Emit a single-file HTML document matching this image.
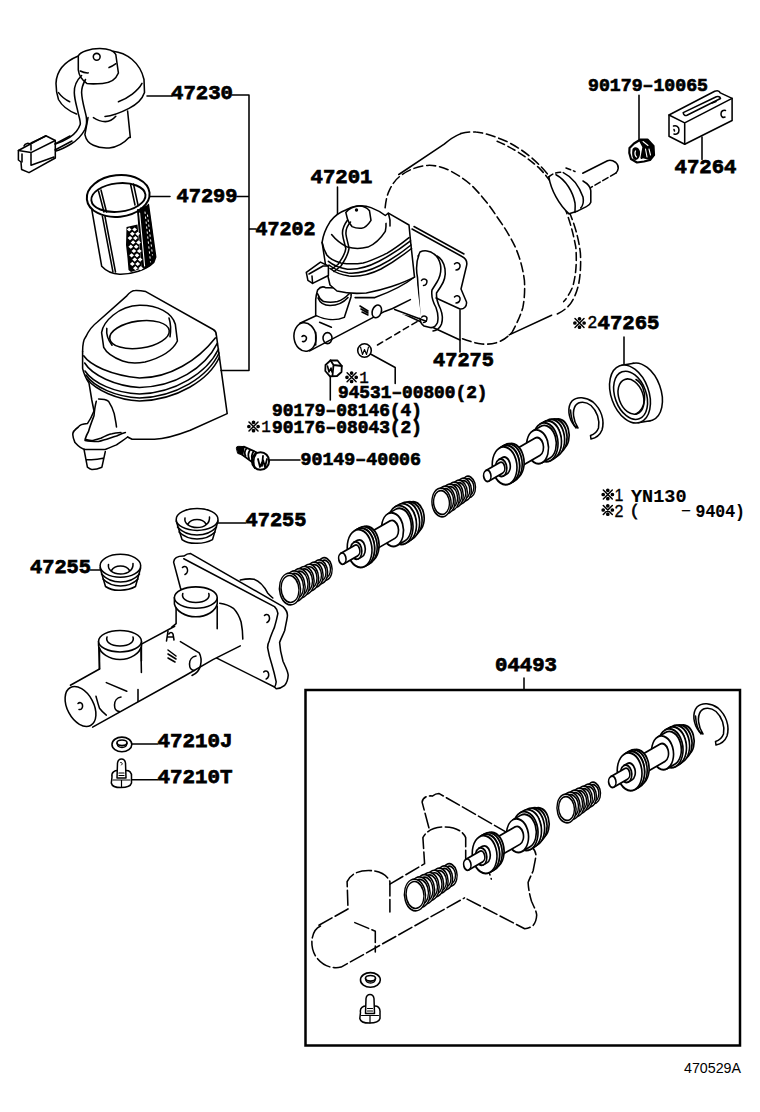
<!DOCTYPE html>
<html><head><meta charset="utf-8">
<style>
html,body{margin:0;padding:0;background:#fff;}
body{width:760px;height:1112px;overflow:hidden;}
svg{display:block;}
.L{font-family:"Liberation Mono",monospace;font-weight:bold;font-size:20.5px;fill:#000;stroke:#000;stroke-width:0.75px;}
.S{font-family:"Liberation Mono",monospace;font-weight:bold;font-size:18.6px;fill:#000;stroke:#000;stroke-width:0.7px;}
.R{font-family:"Liberation Mono",monospace;font-size:16px;fill:#000;stroke:#000;stroke-width:0.4px;}
.R2{font-family:"Liberation Sans",sans-serif;font-size:16px;fill:#000;stroke:#000;stroke-width:0.3px;}
.N{font-family:"Liberation Sans",sans-serif;font-size:14.2px;fill:#000;}
</style></head><body>
<svg width="760" height="1112" viewBox="0 0 760 1112">
<g fill="none" stroke="#000" stroke-width="1.55" stroke-linecap="round" stroke-linejoin="round" id="lines">

<!-- A: cap 47230 -->
<g id="cap">
<path d="M78.3 56 C66 61 56.5 70 56 83.4 C56 91 57 95 58.5 99.5 C62 106 69 111 76.5 114"/>
<path d="M113 51.2 C126 52.5 140 62 144 79.5 L144.5 92.6 C142 100 136 105 129 108.4 C120 113 112 116 105 116.5"/>
<path d="M58.5 92.6 C61 96 65 99.5 69.7 101.8 M118.4 101.8 C128 98 138 91 142 83.4"/>
<path d="M78.3 56 C80 52 90 48.5 100 48.6 C108 48.7 114 51 115.8 54.5 L118.4 73 C116 79 110 83 102.6 83.4 C96 84 90 84 86.8 83.4 C82 80 79 76 78.3 70 Z"/>
<path d="M109 67.6 C112 66.5 114 65 115.8 63.7 M80.3 71 C83 72.5 86 73 88.2 72.9"/>
<circle cx="96.7" cy="56.8" r="3.4"/>
<path d="M88 117.6 L84.9 134.7 C86 140 89 143.5 93.4 145.3 C98 147.5 104 148.3 109.2 147.9 C117 147 124 143 129 137.4 L130.3 137.4 L127.6 111"/>
<path d="M93.4 117.6 C97 120 101 121.6 105.3 121.6 C109 121.6 113 119.5 115.8 116.3"/>
<path d="M81.6 75.5 C77 80 74 86 74.3 92.6 C74.5 100 77 107 78.3 113.7 C79.5 118 80.5 121 80.3 124.2 C78 131 74 134.5 69.7 137.4 C64 141 59 143 55.3 144"/>
<path d="M85.5 79.5 C83 84 81.5 88 81.6 92.6 C82 102 85 110 86.2 116.3 C87 121 86.5 126 84.9 129.5 C81 137 76 141 71 144 C66 147 60 150 56 151"/>
<path d="M18.4 150.5 L45.8 135.8 L55.3 140.5 L55.3 158 L29 172.6 L21.6 169.5 L21 162 L18.4 160 Z"/>
<path d="M18.4 150.5 L31 152.6 L55.3 140.5 M31 152.6 L31 165.3 L54 157 M22 154 L22 162"/>
<path d="M24 146 C25 143 29 142.5 31 145 L31 150 M31 143 L46 136"/>
<path d="M55 144 L70 136 M55 150 L72 141"/>
</g>
<!-- B: strainer 47299 -->
<g id="strainer">
<ellipse cx="118.2" cy="196" rx="31.5" ry="20.8" transform="rotate(-6 118.2 196)" stroke-width="2"/>
<ellipse cx="118.4" cy="197.5" rx="27.2" ry="14.2" transform="rotate(-6 118.4 197.5)" stroke-width="1.9"/>
<path d="M91.8 209.7 L101.7 266.3 C106 271 112 274 119.5 274.2 C132 274.5 146 270 153.7 262.4 L155.7 257 L148.4 204.5"/>
<path d="M102.4 216.3 L112.9 271.6 M105 216.5 L115.5 272"/>
<path d="M137.9 209.7 L145.8 267.6 M141 208 L149 266"/>
<path d="M98.5 191 L104 212 M101 190 L106.5 212 M130.5 184 L135 205 M133.5 184 L138 205"/>
<path fill="#000" stroke="none" d="M137 210 L148.4 204.5 L151 221 L155.7 257 L153.7 262.4 L147 267.5 L141.5 268.5 Z"/>
<path stroke="#fff" stroke-width="1.1" d="M139.6 213 L144.6 266"/>
<path stroke="#fff" stroke-width="1" stroke-dasharray="1.5 3.5" d="M145 212 L150.5 262 M147.5 215 L152.5 255"/>
<path fill="#000" stroke="none" d="M126.5 227 L137.5 224.5 L141.5 268.5 L131 272 L128.5 270 L127.5 258 L126 245 Z"/>
<path stroke="none" fill="#fff" d="M126.8 229.5 L129.2 227.4 L131.6 229.5 L129.2 231.6 Z M132.2 229.5 L134.6 227.4 L137.0 229.5 L134.6 231.6 Z M129.9 233.8 L132.3 231.7 L134.7 233.8 L132.3 235.9 Z M135.3 233.8 L137.7 231.7 L140.1 233.8 L137.7 235.9 Z M127.6 238.1 L130.0 236.0 L132.4 238.1 L130.0 240.2 Z M133.0 238.1 L135.4 236.0 L137.8 238.1 L135.4 240.2 Z M130.7 242.4 L133.1 240.3 L135.5 242.4 L133.1 244.5 Z M136.1 242.4 L138.5 240.3 L140.9 242.4 L138.5 244.5 Z M128.4 246.7 L130.8 244.6 L133.2 246.7 L130.8 248.8 Z M133.8 246.7 L136.2 244.6 L138.6 246.7 L136.2 248.8 Z M131.5 251.0 L133.9 248.9 L136.3 251.0 L133.9 253.1 Z M136.9 251.0 L139.3 248.9 L141.7 251.0 L139.3 253.1 Z M129.2 255.3 L131.6 253.2 L134.0 255.3 L131.6 257.4 Z M134.6 255.3 L137.0 253.2 L139.4 255.3 L137.0 257.4 Z M132.3 259.6 L134.7 257.5 L137.1 259.6 L134.7 261.7 Z M137.7 259.6 L140.1 257.5 L142.5 259.6 L140.1 261.7 Z M129.9 263.9 L132.3 261.8 L134.7 263.9 L132.3 266.0 Z M135.3 263.9 L137.7 261.8 L140.1 263.9 L137.7 266.0 Z M133.0 268.2 L135.4 266.1 L137.8 268.2 L135.4 270.3 Z M138.4 268.2 L140.8 266.1 L143.2 268.2 L140.8 270.3 Z"/>
</g>
<!-- C: reservoir 47202 -->
<g id="reservoir">
<path d="M82.6 351.6 C82.6 344 84 339 85.8 336.8 C89 330 92 326 97.4 322 L126.8 295.8 C129 293 132 290.5 135.3 290.5 C139 290.3 142 290.8 145.8 291.6 L213.2 329.5 C215 330.5 216.3 332.5 216.3 334.7"/>
<path d="M83.7 355.8 C90 365 110 375 139.5 378 C170 378 198 360 215.3 337.9"/>
<path d="M84.7 363 C92 375 115 386 139.5 387.4 C175 387 205 368 217.4 343.2"/>
<path d="M85 371 C93 383 115 393 139.5 394 C175 393 207 373 218.5 349"/>
<path d="M86 375 C94 387 116 397 139.5 398 C176 397 208 377 219 353"/>
<path d="M87 379 C96 390 117 400 139.5 401 C177 400 209 380 219.5 357"/>
<path d="M101.6 332.6 C103 322 118 306 139.5 305.3 C158 305 172 313 175.3 324.2 L177.4 341 C172 352 160 358 145 362 C135 364 128 363 122.6 361 C112 357 106 352 103.7 347.4 Z"/>
<ellipse cx="139.5" cy="334.6" rx="30" ry="13.6" transform="rotate(-8 139.5 334.6)"/>
<path d="M106.8 328.4 C106 335 108 340 112 345.3 M169 318 C171 324 171 330 170 336.8"/>
<path d="M216.3 334.7 L227.2 413.6 L190.3 430.3 C178 435 165 439 154.5 439.3 L132.1 439.3 L127.6 437"/>
<path d="M82.6 351.6 L82.6 368.4 C84 375 87 380 89 383.2 L91.8 400 L94 411 C92 416 90 420 87.4 423.6 C83 424 79.5 425 78.4 427 C74 430 72.5 432 72.8 434.8 C73 438 74 440 75 442.6 C78 446 81 449 85.1 449.4 L105.3 449.4 C109 448 113 446.5 116.5 444.9 C120 442 124 440 127.6 437"/>
<path d="M85 440.4 C90 441.5 94 441.5 98.6 441.5 C105 440 110 438 116.5 436 C120 434.5 122 433.5 125.4 432.6"/>
<path d="M98.6 399 C102 399 106 399.5 108.6 401.3 C111 405 113 409 114.2 413.6 C115 418 116 422 116.5 427"/>
<path d="M96.3 401.3 C95 406 94.5 410 94 415.8 C92 421 90 426 88.5 431.5 C87 434 86 436.5 85.1 439.3 C88 440.5 90 440.6 93 440.4 C96 439.8 98 439 100.8 438.2 C105 436 108 434.5 112 433.7 C115 433 118 432.8 121 432.6"/>
<path d="M84 449.4 L87.4 467.2 C89 468.5 90 469.3 91.8 469.5 C95 469.6 99 468.5 101.9 467.2 L105.3 451.6 M86.3 459.4 C92 460 98 459.5 103 458.3"/>
</g>


<!-- D: booster (phantom) -->
<g id="booster">
<path stroke-dasharray="9 4" d="M385.1 207.8 C386 200 387 195 389.7 189.6 C393 183 396 179 400.3 176 C408 170 418 166 427.5 165.4 C435 165 442 167 448.7 170 C458 175 466 180 472.9 186.6 C482 196 490 206 497.1 216.9 C505 228 511 238 515.3 247.1 C520 258 523 269 524.4 280.4 C525 290 524.5 299 522.8 307.7 C520 317 516 325 512.3 331.9 C507 338 502 341 497.1 342.5 C492 344 487 344.5 482 344 C475 343 468 341 460.8 338"/>
<path stroke-dasharray="9 4" d="M460.8 133.6 C466 132 471 131.5 475.9 132.1 C486 133 496 137 506.2 141.2 C516 146 525 152 533.4 159.3 C541 166 548 174 554.6 183.6 C561 194 567 205 571.3 216.9 C576 229 579 241 580.4 253.2 C581 264 580.5 274 578.8 283.4 C577 292 574 299 569.8 304.6 C565 310 560 313 554.6 315.2"/>
<path stroke-dasharray="8 4" d="M497.1 141.2 C513 148 527 157 539.5 168.4 C550 179 557 191 563.7 204.7 C569 218 573 232 575.8 247.1 C577 262 576 275 572.8 286.5 C570 293 567 298 563.7 301.6"/>
<path d="M398.8 174.5 L444.2 144.2 C450 139 455 136 460.8 133.6 M509.2 334.9 L551.6 315.2"/>
<path d="M392.5 308.8 L460 340"/>
<!-- pushrod & boot -->
<path fill="#fff" stroke="none" d="M548.8 176.9 C553 173 558 171 563.3 172.6 L585 184.9 C588 186.5 590.5 188.5 590.8 190.7 L590.8 202.2 C590 204.5 588.5 205.8 586.4 206.6 L569.1 213.8 C559 205 551 190 548.8 176.9 Z"/>
<path d="M548.8 176.9 C551 190 559 205 569.1 213.8 M556 174.7 C566 180 573 192 575 203 C575.5 207 575 210 574.9 212.4 M563.3 172.6 C572 177 579 186 583 197 C584 202 583 205.5 580.7 208"/>
<path d="M583 181 C586.5 183 590.5 186.5 590.8 190.7 L590.8 202.2 C590 204.5 588.5 205.8 586.4 206.6 L577.8 210.9 L569.1 213.8"/>
<path stroke-dasharray="5 3" d="M548.8 176.9 C552 174 557 171.5 563.3 172.6 M566 168 L575 171.5"/>
<path d="M582.7 173.2 L607.5 160.7 C610 159.8 613 160.5 615.8 162.5 C617.5 164 618.5 166 618.2 168.4 C618 170 617 172 615.8 173.2"/>
<path stroke-dasharray="6 3" d="M615.8 173.2 L591 187.4"/>
</g>


<!-- D2: master cylinder assy 47201 -->
<g id="mc47201" fill="#fff">
<path stroke="none" d="M412 229 L462 256.5 C466 258.5 467.5 262 466.5 266 L461 289 L466.5 302 C467 306 464 309.5 460 309 L432 296 Z"/>
<path fill="none" d="M412 229 L462 256.5 C466 258.5 467.5 262 466.5 266 L461 289 L466.5 302 C467 306 464 309.5 460 309 L436 298"/>
<path fill="none" d="M414 226.5 L464 254"/>
<path fill="none" d="M454.5 264 C456 262 459 262.5 460 265 C460.5 268 458.5 270 456 270 M454.5 297 C456 295 459 295.5 460 298 C460.5 301 458.5 303 456 303"/>
<path d="M418 256 C424 250 432 252 436 258 C440 265 440 274 437 280"/>
<path d="M420 252 C424 250 430 250.5 434 254 C437 256 439.5 260 440.5 265 C441.5 271 440 277 437 282 L432 290 C431 296 433 302 436 307.5 C438 313 438.5 318 437.5 322.5 C436 326 433 328 430 327.5 L424 326 C421 324 420 321 420 318 L417.5 277.5 C416 270 415.5 262 420 252 Z"/>
<path fill="none" d="M437 256 C441 258 444 263 445 269 C446 276 444 282 440.5 287 L436.5 293 C436 299 438 304 440.5 309 C442.5 314 443 319 441.5 324 C440 328 437 330.5 433 331"/>
<path fill="none" d="M421.5 280.5 C422.5 278.5 425.5 278.5 426.8 280.5 C427.5 283 426 285.5 423.5 285.5 M421.5 317.5 C422.5 315.5 425.5 315.5 426.8 317.5 C427.5 320 426 322.5 423.5 322.5"/>
<path d="M317.6 315 L392 285 L415 270 L421.3 318 L385 311 L309.7 350.9 Z" stroke="none"/>
<path fill="none" d="M392.6 308.5 L410.4 299.6 M394.6 309.5 L426.2 321.3 M309.7 350.9 L384.7 311.4 L392.6 308.5"/>
<path fill="none" d="M355.1 297.6 L374.9 297.6 C390 292 402 287 414.5 277"/>
<ellipse cx="305" cy="337" rx="11" ry="14.3" transform="rotate(-8 305 337)"/>
<path fill="none" d="M302 336.5 C303.5 335 306 335.5 306.5 338 C306.5 340.5 304.5 342 302.5 341.5"/>
<path fill="none" d="M299.9 323.3 L317.6 315 M315.7 332.2 L315.7 345 M319.6 322.3 L331.4 327.2"/>
<ellipse cx="327.5" cy="338.1" rx="4.5" ry="5.5" fill="none"/>
<ellipse cx="376.8" cy="311.4" rx="4.5" ry="6.5" transform="rotate(20 376.8 311.4)"/>
<path fill="none" d="M360 306 L368 311 M361 309 L368 313 M362 312 L368 315"/>
<path d="M315.7 315.4 L315.7 299.6 C316 295 317 292 317.6 290 C320 287 323 286 326 287.8 L346 288 C350 290 352 293 351 297 L344.3 317.4 C336 321 325 320 315.7 315.4 Z"/>
<path fill="none" d="M317.6 293.7 C319 298 321 300 323.6 301.6 C328 302.5 333 302.5 337.4 301.6 C342 300 346 297 349.2 293.7 M318 298 C320 303 324 305.5 330 305.5 C338 305.5 344 302 348 297.5"/>
<!-- reservoir on cylinder -->
<path d="M322.1 242.4 C323 235 326 228 330 221.8 C335 215 340 212 345.8 210 C349 208 353 206.5 356.8 206 C362 205.5 367 206 371 207.6 C376 209.5 381 212 385.3 215.5 L388.4 213.2 L409 225 L410.5 240.8 L414.5 277.1 C407 281 399 284 391.6 286.6 C383 289.5 375 291.5 366.3 292.9 C355 294 345 293 337 291 L330 285 L326 268 L324.5 258 Z"/>
<path fill="none" d="M345.8 212.4 C349 208.5 353 206.5 358.4 206 C363 205.8 367 207.5 369.5 210.8 L371 220.3 C368 225 365 227.8 361.6 228.2 C358 228.5 355 228 352.1 226.6 C349.5 224 348 221 347.4 218.7 Z"/>
<circle cx="356.5" cy="210" r="1.7" fill="#000" stroke="none"/>
<path fill="none" d="M331.6 234.5 C336 240 341 244 347.4 247.1 C354 249 361 249 367.9 247.1 C375 244 381 238 385.3 231.3 C386 228 386.2 226 386 223.4"/>
<path fill="none" d="M322.1 242.4 C323 247 324.5 251 326.8 255 C330 259 335 261.5 341 262.9 C348 264 356 264 363.2 262.9 C371 261 379 257 386.8 253.4 C394 249 401 244 409 237.6"/>
<path fill="none" d="M328.4 261.3 C333 265 340 268 347.4 269.2 C358 270 368 267 379 261.3 C389 256 400 249 410.5 240.8 M329 265 C334 269 341 272 348 273 C359 274 369 271 380 265.5 C391 260 401 253 411 245 M330 268.5 C335 272.5 342 275 349 276 C360 277 371 274 381 269 C392 263 402 256 411.5 248.5"/>
<path fill="none" d="M388.4 213.2 C390 218 390.5 222 390 226"/>
<path fill="none" d="M347.4 220.3 C344 225 342 230 342.6 234.5 C343 239 345 244 345.8 248.7 C345 255 341 260 337.9 264.5 L331.6 269.2 M350.5 222 C347 226 345.5 230 346 234.5 C346.5 239 348.5 244 349 248.7 C348 256 344 261 341 266 L334 271.5"/>
<path d="M306.3 272.4 L320.5 262.1 L328.4 266 L328.4 275.5 L312.6 283.4 L307.9 280.3 Z"/>
<path fill="none" d="M309 274 L323 266 L328.4 266 M312.6 283.4 L312 276"/>
</g>
<!-- W washer and leader -->
<g id="wash">
<circle cx="364.5" cy="350.5" r="6.8"/>
<path d="M360.5 347 L362.5 354.5 L364.5 349.5 L366.5 354.5 L368.5 347" stroke-width="1.1"/>
<path d="M370.5 354 L395.2 367.5 L395.2 383.5"/>
<path d="M377.5 345 L417.5 321.3" stroke-dasharray="6 4"/>
</g>

<!--L-->
<g id="phantom" transform="translate(248.5 240)" fill="none" stroke-dasharray="15 3.5">
<path d="M72 686 C63 690 60.5 705 67 716 C73 725 83 729.5 92.6 727.1 L216 657.9"/>
<path d="M70.4 685.2 L99.5 669 L98.6 641.6 C102 634 110 630.5 120 630.5 C130 630.5 138 634 141.4 641.6 L141.4 672"/>
<path d="M141.4 644.1 L176.1 623.7 L174.4 597.6 C178 590.5 186 586.9 195.8 586.9 C206 586.9 214 590.5 217.2 597.6 L217.2 628.8"/>
<path d="M180.4 587.8 L173.6 562.1 C174 558.5 178 555 183.8 556.1 C186 554.5 188 553.5 190.7 553.6 L283 606.6 C286 609.5 288 613 287.3 616.8 C286.5 622 285.5 626 284.7 630.5 C283 635 281 638.5 279.6 642.5 C280 650 281.5 656 283 661.3 C285 666 287.5 670 288.2 675 C288 679 287 682.5 284.7 685.3 C282 687.5 279 688.5 276.2 688.7 L216.3 657.9"/>
<path d="M106.3 682.6 L126.8 691.2 L126.8 712"/>
<path d="M217.2 628.8 C225 622 236 614 242.8 639.1"/>
</g>
<g transform="translate(248.5 235.5)">
<ellipse cx="121.9" cy="744.4" rx="9.9" ry="7.3" stroke-width="1.6"/>
<ellipse cx="122" cy="742.8" rx="5" ry="2.8" stroke-width="1.7"/><path d="M117 743.5 C117.5 746.5 119.5 747.5 122 747.5 C124.5 747.5 126.5 746.5 127 743.5" stroke-width="1.4"/>
<path fill="#fff" stroke-width="1.5" d="M112 777 C111 772 115 770.5 118 770.6 L126 770.6 C129 770.5 132 772 131.5 777 L131.5 783 C130.5 786.5 127 787.6 121 787.6 C115 787.6 112 786.5 111.3 783 Z"/>
<path fill="#fff" stroke-width="1.5" d="M117 778 L117.5 763 C118 760 120 759 121.5 759 C123 759 125 760 125.5 763 L126 778 Z"/>
<path d="M119 773 L124 773 M119 775.5 L124 775.5 M121.5 780 L121.5 787.5 M113 780 L130 780" stroke-width="1.2"/>
</g>
<!--/L-->
<!--H-->
<g id="partsH" fill="none">
<g transform="translate(0,0)">
<g transform="matrix(0.866,-0.5,0.28,0.96,290,589)">
<ellipse cx="40.00" cy="0" rx="7.92" ry="11.00" fill="#fff" />
<ellipse cx="40.00" cy="0" rx="6.19" ry="8.60" fill="none" />
<ellipse cx="34.29" cy="0" rx="8.38" ry="11.64" fill="#fff" />
<ellipse cx="34.29" cy="0" rx="6.65" ry="9.24" fill="none" />
<ellipse cx="28.57" cy="0" rx="8.85" ry="12.29" fill="#fff" />
<ellipse cx="28.57" cy="0" rx="7.12" ry="9.89" fill="none" />
<ellipse cx="22.86" cy="0" rx="9.31" ry="12.93" fill="#fff" />
<ellipse cx="22.86" cy="0" rx="7.58" ry="10.53" fill="none" />
<ellipse cx="17.14" cy="0" rx="9.77" ry="13.57" fill="#fff" />
<ellipse cx="17.14" cy="0" rx="8.04" ry="11.17" fill="none" />
<ellipse cx="11.43" cy="0" rx="10.23" ry="14.21" fill="#fff" />
<ellipse cx="11.43" cy="0" rx="8.51" ry="11.81" fill="none" />
<ellipse cx="5.71" cy="0" rx="10.70" ry="14.86" fill="#fff" />
<ellipse cx="5.71" cy="0" rx="8.97" ry="12.46" fill="none" />
<ellipse cx="0.00" cy="0" rx="11.16" ry="15.50" fill="#fff" />
<ellipse cx="0.00" cy="0" rx="9.43" ry="13.10" fill="none" />
</g>
<g stroke-width="1.8"><g transform="matrix(0.866,-0.5,0.28,0.96,342.3,558.6)">
<path fill="#fff" d="M79.00 -15.00 L83.00 -15.00 A10.50 15.00 0 0 1 83.00 15.00 L79.00 15.00 Z"/><ellipse cx="79.00" cy="0" rx="10.50" ry="15.00" fill="#fff" />
<path fill="#fff" d="M75.00 -17.00 L79.00 -17.00 A11.90 17.00 0 0 1 79.00 17.00 L75.00 17.00 Z"/><ellipse cx="75.00" cy="0" rx="11.90" ry="17.00" fill="#fff" />
<path fill="#fff" d="M71.00 -18.50 L75.00 -18.50 A12.95 18.50 0 0 1 75.00 18.50 L71.00 18.50 Z"/><ellipse cx="71.00" cy="0" rx="12.95" ry="18.50" fill="#fff" />
<path fill="#fff" d="M67.00 -19.00 L71.00 -19.00 A13.30 19.00 0 0 1 71.00 19.00 L67.00 19.00 Z"/><ellipse cx="67.00" cy="0" rx="13.30" ry="19.00" fill="#fff" />
<path fill="#fff" d="M58.00 -16.50 L67.00 -16.50 A11.55 16.50 0 0 1 67.00 16.50 L58.00 16.50 Z"/><ellipse cx="58.00" cy="0" rx="11.55" ry="16.50" fill="#fff" />
<path fill="#fff" d="M29.00 -9.00 L58.00 -9.00 A6.30 9.00 0 0 1 58.00 9.00 L29.00 9.00 Z"/><ellipse cx="29.00" cy="0" rx="6.30" ry="9.00" fill="#fff" />
<path fill="#fff" d="M26.00 -17.50 L29.00 -17.50 A12.25 17.50 0 0 1 29.00 17.50 L26.00 17.50 Z"/><ellipse cx="26.00" cy="0" rx="12.25" ry="17.50" fill="#fff" />
<path fill="#fff" d="M23.00 -18.50 L26.00 -18.50 A12.95 18.50 0 0 1 26.00 18.50 L23.00 18.50 Z"/><ellipse cx="23.00" cy="0" rx="12.95" ry="18.50" fill="#fff" />
<path fill="#fff" d="M20.00 -18.50 L23.00 -18.50 A12.95 18.50 0 0 1 23.00 18.50 L20.00 18.50 Z"/><ellipse cx="20.00" cy="0" rx="12.95" ry="18.50" fill="#fff" />
<path fill="#fff" d="M16.00 -8.50 L20.00 -8.50 A5.95 8.50 0 0 1 20.00 8.50 L16.00 8.50 Z"/><ellipse cx="16.00" cy="0" rx="5.95" ry="8.50" fill="#fff" />
<path fill="#fff" d="M0.00 -5.50 L16.00 -5.50 A3.85 5.50 0 0 1 16.00 5.50 L0.00 5.50 Z"/><ellipse cx="0.00" cy="0" rx="3.85" ry="5.50" fill="#fff" />
</g></g>
<g transform="matrix(0.866,-0.5,0.28,0.96,441.5,502.5)">
<ellipse cx="31.00" cy="0" rx="7.56" ry="10.50" fill="#fff" />
<ellipse cx="31.00" cy="0" rx="5.83" ry="8.10" fill="none" />
<ellipse cx="25.83" cy="0" rx="7.98" ry="11.08" fill="#fff" />
<ellipse cx="25.83" cy="0" rx="6.25" ry="8.68" fill="none" />
<ellipse cx="20.67" cy="0" rx="8.40" ry="11.67" fill="#fff" />
<ellipse cx="20.67" cy="0" rx="6.67" ry="9.27" fill="none" />
<ellipse cx="15.50" cy="0" rx="8.82" ry="12.25" fill="#fff" />
<ellipse cx="15.50" cy="0" rx="7.09" ry="9.85" fill="none" />
<ellipse cx="10.33" cy="0" rx="9.24" ry="12.83" fill="#fff" />
<ellipse cx="10.33" cy="0" rx="7.51" ry="10.43" fill="none" />
<ellipse cx="5.17" cy="0" rx="9.66" ry="13.42" fill="#fff" />
<ellipse cx="5.17" cy="0" rx="7.93" ry="11.02" fill="none" />
<ellipse cx="0.00" cy="0" rx="10.08" ry="14.00" fill="#fff" />
<ellipse cx="0.00" cy="0" rx="8.35" ry="11.60" fill="none" />
</g>
<g stroke-width="1.8"><g transform="matrix(0.866,-0.5,0.28,0.96,487.3,475.8)">
<path fill="#fff" d="M79.00 -15.00 L83.00 -15.00 A10.50 15.00 0 0 1 83.00 15.00 L79.00 15.00 Z"/><ellipse cx="79.00" cy="0" rx="10.50" ry="15.00" fill="#fff" />
<path fill="#fff" d="M75.00 -17.00 L79.00 -17.00 A11.90 17.00 0 0 1 79.00 17.00 L75.00 17.00 Z"/><ellipse cx="75.00" cy="0" rx="11.90" ry="17.00" fill="#fff" />
<path fill="#fff" d="M71.00 -18.50 L75.00 -18.50 A12.95 18.50 0 0 1 75.00 18.50 L71.00 18.50 Z"/><ellipse cx="71.00" cy="0" rx="12.95" ry="18.50" fill="#fff" />
<path fill="#fff" d="M67.00 -19.00 L71.00 -19.00 A13.30 19.00 0 0 1 71.00 19.00 L67.00 19.00 Z"/><ellipse cx="67.00" cy="0" rx="13.30" ry="19.00" fill="#fff" />
<path fill="#fff" d="M58.00 -16.50 L67.00 -16.50 A11.55 16.50 0 0 1 67.00 16.50 L58.00 16.50 Z"/><ellipse cx="58.00" cy="0" rx="11.55" ry="16.50" fill="#fff" />
<path fill="#fff" d="M29.00 -9.00 L58.00 -9.00 A6.30 9.00 0 0 1 58.00 9.00 L29.00 9.00 Z"/><ellipse cx="29.00" cy="0" rx="6.30" ry="9.00" fill="#fff" />
<path fill="#fff" d="M26.00 -17.50 L29.00 -17.50 A12.25 17.50 0 0 1 29.00 17.50 L26.00 17.50 Z"/><ellipse cx="26.00" cy="0" rx="12.25" ry="17.50" fill="#fff" />
<path fill="#fff" d="M23.00 -18.50 L26.00 -18.50 A12.95 18.50 0 0 1 26.00 18.50 L23.00 18.50 Z"/><ellipse cx="23.00" cy="0" rx="12.95" ry="18.50" fill="#fff" />
<path fill="#fff" d="M20.00 -18.50 L23.00 -18.50 A12.95 18.50 0 0 1 23.00 18.50 L20.00 18.50 Z"/><ellipse cx="20.00" cy="0" rx="12.95" ry="18.50" fill="#fff" />
<path fill="#fff" d="M16.00 -8.50 L20.00 -8.50 A5.95 8.50 0 0 1 20.00 8.50 L16.00 8.50 Z"/><ellipse cx="16.00" cy="0" rx="5.95" ry="8.50" fill="#fff" />
<path fill="#fff" d="M0.00 -5.50 L16.00 -5.50 A3.85 5.50 0 0 1 16.00 5.50 L0.00 5.50 Z"/><ellipse cx="0.00" cy="0" rx="3.85" ry="5.50" fill="#fff" />
</g></g>
<path fill="none" d="M574.5 426 C568 418 567 407 572 401 C577 396 586 397 593 402 C601 409 605 420 602 430 C600 435 596 438 591 439 L590.5 435.5 C594 434.5 597 432 598.5 428 C600 420 597 411 591 405.5 C586 401.5 579 401 575.5 405.5 C572 411 573 420 578 428 Z"/>
<path fill="none" d="M570.5 410 C571 418 573 424 576 428"/>
<g id="seal">
<ellipse cx="642" cy="392" rx="18.8" ry="30.1" transform="rotate(-20 642 392)" fill="#fff"/>
<path fill="#fff" stroke="none" d="M638.20 422.84 L650.20 420.84 L633.80 363.16 L621.80 365.16 Z"/>
<path fill="none" d="M638.20 422.84 L650.20 420.84 M633.80 363.16 L621.80 365.16"/>
<ellipse cx="630" cy="394" rx="18.8" ry="30.1" transform="rotate(-20 630 394)" fill="#fff"/>
<ellipse cx="630.6" cy="395.3" rx="15.6" ry="25" transform="rotate(-20 630.6 395.3)" fill="none"/>
<ellipse cx="631" cy="396.6" rx="12.1" ry="18.3" transform="rotate(-20 631 396.6)" fill="none"/>
<path fill="none" d="M636 379.5 C642 383 645.5 391 644.5 400 C643.5 407 640 412 636 414"/>
</g>

</g>
</g>
<g id="partsBox" fill="none">
<g transform="translate(125,306)">
<g transform="matrix(0.866,-0.5,0.28,0.96,290,589)">
<ellipse cx="40.00" cy="0" rx="7.92" ry="11.00" fill="#fff" />
<ellipse cx="40.00" cy="0" rx="6.19" ry="8.60" fill="none" />
<ellipse cx="34.29" cy="0" rx="8.38" ry="11.64" fill="#fff" />
<ellipse cx="34.29" cy="0" rx="6.65" ry="9.24" fill="none" />
<ellipse cx="28.57" cy="0" rx="8.85" ry="12.29" fill="#fff" />
<ellipse cx="28.57" cy="0" rx="7.12" ry="9.89" fill="none" />
<ellipse cx="22.86" cy="0" rx="9.31" ry="12.93" fill="#fff" />
<ellipse cx="22.86" cy="0" rx="7.58" ry="10.53" fill="none" />
<ellipse cx="17.14" cy="0" rx="9.77" ry="13.57" fill="#fff" />
<ellipse cx="17.14" cy="0" rx="8.04" ry="11.17" fill="none" />
<ellipse cx="11.43" cy="0" rx="10.23" ry="14.21" fill="#fff" />
<ellipse cx="11.43" cy="0" rx="8.51" ry="11.81" fill="none" />
<ellipse cx="5.71" cy="0" rx="10.70" ry="14.86" fill="#fff" />
<ellipse cx="5.71" cy="0" rx="8.97" ry="12.46" fill="none" />
<ellipse cx="0.00" cy="0" rx="11.16" ry="15.50" fill="#fff" />
<ellipse cx="0.00" cy="0" rx="9.43" ry="13.10" fill="none" />
</g>
<g stroke-width="1.8"><g transform="matrix(0.866,-0.5,0.28,0.96,342.3,558.6)">
<path fill="#fff" d="M79.00 -15.00 L83.00 -15.00 A10.50 15.00 0 0 1 83.00 15.00 L79.00 15.00 Z"/><ellipse cx="79.00" cy="0" rx="10.50" ry="15.00" fill="#fff" />
<path fill="#fff" d="M75.00 -17.00 L79.00 -17.00 A11.90 17.00 0 0 1 79.00 17.00 L75.00 17.00 Z"/><ellipse cx="75.00" cy="0" rx="11.90" ry="17.00" fill="#fff" />
<path fill="#fff" d="M71.00 -18.50 L75.00 -18.50 A12.95 18.50 0 0 1 75.00 18.50 L71.00 18.50 Z"/><ellipse cx="71.00" cy="0" rx="12.95" ry="18.50" fill="#fff" />
<path fill="#fff" d="M67.00 -19.00 L71.00 -19.00 A13.30 19.00 0 0 1 71.00 19.00 L67.00 19.00 Z"/><ellipse cx="67.00" cy="0" rx="13.30" ry="19.00" fill="#fff" />
<path fill="#fff" d="M58.00 -16.50 L67.00 -16.50 A11.55 16.50 0 0 1 67.00 16.50 L58.00 16.50 Z"/><ellipse cx="58.00" cy="0" rx="11.55" ry="16.50" fill="#fff" />
<path fill="#fff" d="M29.00 -9.00 L58.00 -9.00 A6.30 9.00 0 0 1 58.00 9.00 L29.00 9.00 Z"/><ellipse cx="29.00" cy="0" rx="6.30" ry="9.00" fill="#fff" />
<path fill="#fff" d="M26.00 -17.50 L29.00 -17.50 A12.25 17.50 0 0 1 29.00 17.50 L26.00 17.50 Z"/><ellipse cx="26.00" cy="0" rx="12.25" ry="17.50" fill="#fff" />
<path fill="#fff" d="M23.00 -18.50 L26.00 -18.50 A12.95 18.50 0 0 1 26.00 18.50 L23.00 18.50 Z"/><ellipse cx="23.00" cy="0" rx="12.95" ry="18.50" fill="#fff" />
<path fill="#fff" d="M20.00 -18.50 L23.00 -18.50 A12.95 18.50 0 0 1 23.00 18.50 L20.00 18.50 Z"/><ellipse cx="20.00" cy="0" rx="12.95" ry="18.50" fill="#fff" />
<path fill="#fff" d="M16.00 -8.50 L20.00 -8.50 A5.95 8.50 0 0 1 20.00 8.50 L16.00 8.50 Z"/><ellipse cx="16.00" cy="0" rx="5.95" ry="8.50" fill="#fff" />
<path fill="#fff" d="M0.00 -5.50 L16.00 -5.50 A3.85 5.50 0 0 1 16.00 5.50 L0.00 5.50 Z"/><ellipse cx="0.00" cy="0" rx="3.85" ry="5.50" fill="#fff" />
</g></g>
<g transform="matrix(0.866,-0.5,0.28,0.96,441.5,502.5)">
<ellipse cx="31.00" cy="0" rx="7.56" ry="10.50" fill="#fff" />
<ellipse cx="31.00" cy="0" rx="5.83" ry="8.10" fill="none" />
<ellipse cx="25.83" cy="0" rx="7.98" ry="11.08" fill="#fff" />
<ellipse cx="25.83" cy="0" rx="6.25" ry="8.68" fill="none" />
<ellipse cx="20.67" cy="0" rx="8.40" ry="11.67" fill="#fff" />
<ellipse cx="20.67" cy="0" rx="6.67" ry="9.27" fill="none" />
<ellipse cx="15.50" cy="0" rx="8.82" ry="12.25" fill="#fff" />
<ellipse cx="15.50" cy="0" rx="7.09" ry="9.85" fill="none" />
<ellipse cx="10.33" cy="0" rx="9.24" ry="12.83" fill="#fff" />
<ellipse cx="10.33" cy="0" rx="7.51" ry="10.43" fill="none" />
<ellipse cx="5.17" cy="0" rx="9.66" ry="13.42" fill="#fff" />
<ellipse cx="5.17" cy="0" rx="7.93" ry="11.02" fill="none" />
<ellipse cx="0.00" cy="0" rx="10.08" ry="14.00" fill="#fff" />
<ellipse cx="0.00" cy="0" rx="8.35" ry="11.60" fill="none" />
</g>
<g stroke-width="1.8"><g transform="matrix(0.866,-0.5,0.28,0.96,487.3,475.8)">
<path fill="#fff" d="M79.00 -15.00 L83.00 -15.00 A10.50 15.00 0 0 1 83.00 15.00 L79.00 15.00 Z"/><ellipse cx="79.00" cy="0" rx="10.50" ry="15.00" fill="#fff" />
<path fill="#fff" d="M75.00 -17.00 L79.00 -17.00 A11.90 17.00 0 0 1 79.00 17.00 L75.00 17.00 Z"/><ellipse cx="75.00" cy="0" rx="11.90" ry="17.00" fill="#fff" />
<path fill="#fff" d="M71.00 -18.50 L75.00 -18.50 A12.95 18.50 0 0 1 75.00 18.50 L71.00 18.50 Z"/><ellipse cx="71.00" cy="0" rx="12.95" ry="18.50" fill="#fff" />
<path fill="#fff" d="M67.00 -19.00 L71.00 -19.00 A13.30 19.00 0 0 1 71.00 19.00 L67.00 19.00 Z"/><ellipse cx="67.00" cy="0" rx="13.30" ry="19.00" fill="#fff" />
<path fill="#fff" d="M58.00 -16.50 L67.00 -16.50 A11.55 16.50 0 0 1 67.00 16.50 L58.00 16.50 Z"/><ellipse cx="58.00" cy="0" rx="11.55" ry="16.50" fill="#fff" />
<path fill="#fff" d="M29.00 -9.00 L58.00 -9.00 A6.30 9.00 0 0 1 58.00 9.00 L29.00 9.00 Z"/><ellipse cx="29.00" cy="0" rx="6.30" ry="9.00" fill="#fff" />
<path fill="#fff" d="M26.00 -17.50 L29.00 -17.50 A12.25 17.50 0 0 1 29.00 17.50 L26.00 17.50 Z"/><ellipse cx="26.00" cy="0" rx="12.25" ry="17.50" fill="#fff" />
<path fill="#fff" d="M23.00 -18.50 L26.00 -18.50 A12.95 18.50 0 0 1 26.00 18.50 L23.00 18.50 Z"/><ellipse cx="23.00" cy="0" rx="12.95" ry="18.50" fill="#fff" />
<path fill="#fff" d="M20.00 -18.50 L23.00 -18.50 A12.95 18.50 0 0 1 23.00 18.50 L20.00 18.50 Z"/><ellipse cx="20.00" cy="0" rx="12.95" ry="18.50" fill="#fff" />
<path fill="#fff" d="M16.00 -8.50 L20.00 -8.50 A5.95 8.50 0 0 1 20.00 8.50 L16.00 8.50 Z"/><ellipse cx="16.00" cy="0" rx="5.95" ry="8.50" fill="#fff" />
<path fill="#fff" d="M0.00 -5.50 L16.00 -5.50 A3.85 5.50 0 0 1 16.00 5.50 L0.00 5.50 Z"/><ellipse cx="0.00" cy="0" rx="3.85" ry="5.50" fill="#fff" />
</g></g>
<path fill="none" d="M574.5 426 C568 418 567 407 572 401 C577 396 586 397 593 402 C601 409 605 420 602 430 C600 435 596 438 591 439 L590.5 435.5 C594 434.5 597 432 598.5 428 C600 420 597 411 591 405.5 C586 401.5 579 401 575.5 405.5 C572 411 573 420 578 428 Z"/>
<path fill="none" d="M570.5 410 C571 418 573 424 576 428"/>
</g>
</g>
<!--/H-->
<!--J-->
<g id="grommets" fill="#fff">
<path d="M176.2 521 L182 539.6 C186 542.5 192 543.5 197 543.3 C203 543.3 209 541.5 212.5 539.6 L218 521"/>
<path fill="none" d="M177.5 527 C183 533 190 535 197 535 C205 535 212 532 216.5 527 M179 532 C185 537.5 191 539 197 539 C204 539 210 537 215 532"/>
<ellipse cx="197.1" cy="519.4" rx="20.9" ry="11"/>
<path fill="none" d="M185 518 C184 523 189 527.5 197 527.6 C205 527.5 210 523 209.5 517 M188 524 C190 520.5 193.5 519.5 197 519.5 C201 519.5 204 520.5 206 524"/>
<path fill="none" d="M218 523 L245.5 523"/>
<path d="M100.1 568 L105.5 586.5 C110 589.5 116 590.5 120.5 590.2 C126 590.2 132 588.5 135.5 586.5 L140.6 568"/>
<path fill="none" d="M101.5 574 C107 580 113.5 582 120.5 582 C128 582 135 579 139.5 574 M103 579 C108.5 584.5 114.5 586 120.5 586 C127 586 133 584 138 579"/>
<ellipse cx="120.4" cy="565.8" rx="20.3" ry="11.5"/>
<path fill="none" d="M108.5 564.5 C107.5 569.5 112.5 574 120.5 574 C128.5 574 133.5 569.5 133 563.5 M111.5 570.5 C113.5 567 117 566 120.5 566 C124.5 566 127.5 567 129.5 570.5"/>
<path fill="none" d="M90.5 570 L100.1 570"/>
</g>
<g id="mcbody" fill="#fff">
<!-- flange -->
<path d="M190.7 553.6 L283 606.6 C286 609.5 288 613 287.3 616.8 C286.5 622 285.5 626 284.7 630.5 C283 635 281 638.5 279.6 642.5 C280 650 281.5 656 283 661.3 C285 666 287.5 670 288.2 675 C288 679 287 682.5 284.7 685.3 C282 687.5 279 688.5 276.2 688.7 L274.5 687 L216.3 657.9 L180.4 587.8 L173.6 562.1 C174 558.5 177 556 183.8 556.1 C186 554.5 188 553.5 190.7 553.6 Z"/>
<path fill="none" d="M183.8 558.7 L274.5 606.6 C276.5 608.5 277.8 610.5 277.9 613.4 C277 618 276 622 274.5 627.1 C272.5 632 270.5 636.5 269.3 640.8 C268 643 267.7 645 267.6 647.6 C268.5 653 270 659 271.9 664.7 C273.5 670 275 676 276.2 681.8 C276 684 275.5 686 274.5 687"/>
<path fill="none" d="M240.3 580.1 C245 579 250 578.5 254 579.2 C259 581 264 586 267.6 592.9 C269.5 595 271 596.5 272.8 598"/>
<path fill="none" d="M182.5 567.5 C183.8 566 186 566.2 187 568 C188 570.5 187.5 573.5 185 574.5 M264.5 615.5 C265.8 614 268 614.2 269 616 C270 618.5 269.5 621.5 267 622.5 M263.7 672 C265 670.5 267.2 670.7 268.2 672.5 C269.2 675 268.7 678 266.2 679"/>
<!-- body -->
<path stroke="none" d="M70.4 685.2 L99.5 669 L99.5 648 L141.4 645 L141.4 644.1 L171.8 627.1 L176.1 623.7 L217.2 600 L219.7 603.2 C225 604 229.5 605.5 233.4 608.3 C237 612 239.5 617 241.1 622 C242.3 628 242.8 633 242.8 639.1 L240.3 645.9 L212.9 659.6 L185 675.8 L92.6 727.1 Z"/>
<path fill="none" d="M70.4 685.2 L99.5 669 M141.4 644.1 L174.7 626.2 M92.6 727.1 L185 675.8 L212.9 659.6 L240.3 645.9"/>
<path fill="none" d="M219.7 603.2 C225 604 229.5 605.5 233.4 608.3 C237 612 239.5 617 241.1 622 C242.3 628 242.8 633 242.8 639.1"/>
<ellipse cx="80.5" cy="706.5" rx="13.2" ry="21.5" transform="rotate(-28 80.5 706.5)"/>
<path fill="none" d="M78 703.5 C79.5 702 82 702.5 82.5 705 C83 707.5 81.5 710 79 709.5"/>
<path fill="none" d="M96 696.3 C97 700 98 704 99.5 708.3 C101.5 711 103.5 713 106.3 715.1 M106.3 682.6 L126.8 691.2 M138 689.5 L138 701.5"/>
<path fill="none" d="M121 697 C117 697.5 114.5 701 114.5 705 C114.5 709 116.5 711.5 119.5 711.5"/>
<path fill="none" d="M180.4 641.6 L199.2 652.8 C201 656 201.5 661 200.5 665.5 C199.5 670 196.5 673.5 192 675.5 M196 656 C192 656.5 189.5 660 189.5 664 C189.5 668 191.5 670.5 194.5 670.5"/>
<path fill="none" d="M168 631 L166.5 641 M169 634 C170 632 172 632 173 634 L174 640 M167 637 L173 637 M168 650 L176 656 M168 654 L176 659 M168 658 L175 662"/>
<!-- port 1 -->
<path d="M98.6 641 L99.5 669 M141.4 641 L141.4 661"/>
<path d="M98.6 641.6 L98.6 646 C100 653 109 659.5 120 659.5 C131 659.5 140 653 141.4 646 L141.4 641.6"/>
<ellipse cx="120" cy="641.2" rx="21.4" ry="10.7"/>
<path fill="none" d="M107 637 C105.5 641.5 110 646 120 646 C130 646 134.5 641.5 133 637"/>
<path fill="none" d="M99.5 648 L99.5 669 M141 650 L141.4 672.4"/>
<!-- port 2 -->
<path d="M174.4 597.6 L174.4 604 C176 611 185 616.8 195.8 616.8 C207 616.8 215.5 611 217.2 604 L217.2 597.6"/>
<ellipse cx="195.8" cy="597.6" rx="21.4" ry="10.7"/>
<path fill="none" d="M182.8 593.5 C181.3 598 186 602.5 195.8 602.5 C205.6 602.5 210.3 598 208.8 593.5"/>
<path fill="none" d="M176.1 608 L176.1 623.7 L171.8 627.1 M217.2 606 L217.2 628.8"/>
</g>
<g id="smallK">
<ellipse cx="121.9" cy="744.4" rx="9.9" ry="7.3" stroke-width="1.6"/>
<ellipse cx="122" cy="742.8" rx="5" ry="2.8" stroke-width="1.7"/><path d="M117 743.5 C117.5 746.5 119.5 747.5 122 747.5 C124.5 747.5 126.5 746.5 127 743.5" stroke-width="1.4"/>
<path d="M131.8 743.9 L157.5 743.9"/>
<path fill="#fff" stroke-width="1.5" d="M112 777 C111 772 115 770.5 118 770.6 L126 770.6 C129 770.5 132 772 131.5 777 L131.5 783 C130.5 786.5 127 787.6 121 787.6 C115 787.6 112 786.5 111.3 783 Z"/>
<path fill="#fff" stroke-width="1.5" d="M117 778 L117.5 763 C118 760 120 759 121.5 759 C123 759 125 760 125.5 763 L126 778 Z"/>
<path d="M119 773 L124 773 M119 775.5 L124 775.5 M121.5 780 L121.5 787.5 M113 780 L130 780" stroke-width="1.2"/>
<path d="M120.5 762.5 C122 762 123 763.5 121.5 765" stroke-width="1"/>
<path d="M131.8 779.8 L157.5 779.8"/>
</g>
<!--/J-->
<!--K-->
<defs>
<g id="kome" fill="none" stroke="#000" stroke-width="1.5">
<path d="M-4.5 -4.5 L4.5 4.5 M4.5 -4.5 L-4.5 4.5"/>
<circle cx="0" cy="-4.2" r="1.1" fill="#000"/><circle cx="0" cy="4.2" r="1.1" fill="#000"/>
<circle cx="-4.6" cy="0" r="1.1" fill="#000"/><circle cx="4.6" cy="0" r="1.1" fill="#000"/>
</g>
</defs>
<g id="clevis" fill="#fff">
<path d="M669 115 L714.7 91.3 C717 90.5 719.5 91 720.3 92.9 L732.1 98.4 L732.1 120.5 L684.7 144.2 L669 136.3 Z"/>
<path fill="none" d="M669 115 L684.7 122.9 L732.1 98.4 M684.7 122.9 L684.7 144.2"/>
<path fill="none" d="M683.2 112.6 L716.3 96.8 C718.5 96 720 97 720.5 98.5 L687 115.3 C685 116 683.5 115 683.2 112.6 Z"/>
<path fill="none" d="M712 103 L716 101.5"/>
<path fill="none" d="M673.5 126 C676 125 679 126.5 679 130 C679 133.5 676.5 135 674 134 M674 129.5 L674.5 131"/>
<path fill="none" d="M725.5 110.5 C723.5 109.5 721 111 721 114 C721 117 723 118 725 117"/>
</g>
<g id="nut1" stroke-width="2.2">
<path fill="#fff" d="M629.5 148 L634 143.5 L640.5 139.5 L647.5 139.5 L653.5 146 L654 155 L650 160 L644 161.5 L637 162.5 L631 159 L629.3 153 Z"/>
<path fill="#000" stroke="none" d="M643.5 147 L653.5 146 L654 155 L650 160 L641.5 158 Z M640.5 139.5 L647.5 139.5 L653.5 146 L643.5 147 Z"/>
<path fill="none" stroke="#fff" stroke-width="1.1" d="M645.5 149 L647 157 M649 149 L650.5 155 M643 141.5 L648 145.5"/>
<path fill="none" d="M640 140.5 L643.5 147 L641.5 158"/>
<path fill="#000" stroke="none" d="M632.5 149 C634.5 146 639 147 640 151.5 C640.5 156 638.5 160 635.5 160 C632.5 160 631.5 155 632.5 149 Z"/>
<path fill="none" stroke="#fff" stroke-width="1.3" d="M635.5 151 C634.5 153 635 156 636.5 157"/>
</g>
<path d="M639 95.3 L639 139.5 M702 137 L702 159.5"/>
<g id="nut2" stroke-width="1.8">
<path fill="#fff" d="M325.5 365 L330.5 360.3 L337.5 360.5 L341.8 366 L341.5 372 L337 376 L330 376.3 L325.3 371 Z"/>
<path fill="none" d="M330.5 360.3 L333.5 365 L332.5 375.5 M333.5 365 L341.8 366"/>
<path fill="none" d="M327.5 366 L329 372 L331 368 L332 372" stroke-width="1.6"/>
</g>
<path d="M330.3 376.3 L330.3 400"/>
<g id="bolt">
<path fill="#000" stroke-width="1" d="M236.3 448 C236 446.5 238 446.2 240 446.4 L244 446.6 L245.5 452 L242.5 455.1 L238 453.5 Z"/>
<path fill="#fff" stroke-width="1.8" d="M243.8 446.6 L256.3 452.2 L251.7 461.7 L242.5 455.1 Z"/>
<path fill="none" stroke-width="1.8" d="M246.5 448.5 C244.5 451 244.5 454 245.5 456 M250 450 C248 453 248 456 249 458.5 M253.5 451.5 C251.5 454.5 251.5 457.5 252.5 460"/>
<ellipse cx="260.5" cy="461" rx="8.6" ry="8.8" fill="#fff" stroke-width="2"/>
<path fill="none" stroke-width="1.8" d="M255.5 455 C253 458 253 464 255 468 M263 456 L262 466 M258 459 L260 467 L263 460 L265 467 L267 459"/>
<path d="M269.5 460 L300 460"/>
</g>
<use href="#kome" transform="translate(351.6 377.3)"/>
<use href="#kome" transform="translate(253.5 426.5)"/>
<use href="#kome" transform="translate(579.5 323)"/>
<use href="#kome" transform="translate(607.8 494.5)"/>
<use href="#kome" transform="translate(607.8 510)"/>
<!--/K-->
<!-- leader lines -->
<path d="M147 96H172 M232 95H249V370.5H221 M150 196.5H170 M237 196.5H249 M249 229H256"/>
<path d="M337.5 187V214"/>

<path d="M624 337V364"/>
<path d="M460 310V352"/>
<path d="M524 678V690"/>
</g>
<rect x="305.5" y="690" width="434.5" height="355.5" fill="none" stroke="#000" stroke-width="2.5"/>
<g id="text">
<text class="L" x="171" y="98.5" textLength="62" lengthAdjust="spacingAndGlyphs">47230</text>
<text class="L" x="176.5" y="201.6" textLength="61" lengthAdjust="spacingAndGlyphs">47299</text>
<text class="L" x="255.5" y="234.8" textLength="60" lengthAdjust="spacingAndGlyphs">47202</text>
<text class="L" x="310.5" y="182.6" textLength="62" lengthAdjust="spacingAndGlyphs">47201</text>
<text class="L" x="674.5" y="173.3" textLength="62" lengthAdjust="spacingAndGlyphs">47264</text>
<text class="L" x="433" y="365.8" textLength="61" lengthAdjust="spacingAndGlyphs">47275</text>
<text class="R2" x="587.8" y="328" style="font-size:16.5px;stroke:#000;stroke-width:0.5px">2</text>
<text class="L" x="597.5" y="329.3" textLength="62" lengthAdjust="spacingAndGlyphs">47265</text>
<text class="L" x="245.5" y="526.0" textLength="61" lengthAdjust="spacingAndGlyphs">47255</text>
<text class="L" x="30" y="573.2" textLength="61" lengthAdjust="spacingAndGlyphs">47255</text>
<text class="L" x="157.5" y="746.7" textLength="75" lengthAdjust="spacingAndGlyphs">47210J</text>
<text class="L" x="157.5" y="782.9" textLength="75" lengthAdjust="spacingAndGlyphs">47210T</text>
<text class="L" x="495" y="671.4" textLength="62" lengthAdjust="spacingAndGlyphs">04493</text>
<text class="S" x="588" y="90.6" textLength="120" lengthAdjust="spacingAndGlyphs">90179&#8211;10065</text>
<text class="S" x="338" y="397.5" textLength="149.5" lengthAdjust="spacingAndGlyphs">94531&#8211;00800(2)</text>
<text class="S" x="272" y="416.3" textLength="150" lengthAdjust="spacingAndGlyphs">90179&#8211;08146(4)</text>
<text class="S" x="272" y="433.4" textLength="150" lengthAdjust="spacingAndGlyphs">90176&#8211;08043(2)</text>
<text class="S" x="300.5" y="464.9" textLength="120.5" lengthAdjust="spacingAndGlyphs">90149&#8211;40006</text>
<text class="R" x="359.2" y="383.4">1</text>
<text class="R" x="261.2" y="432">1</text>
<text class="R2" x="614.5" y="501.3">1</text>
<text class="S" style="stroke-width:0.15px" x="631" y="501.5" textLength="55.5" lengthAdjust="spacingAndGlyphs">YN130</text>
<text class="R2" x="614.5" y="516.7">2</text>
<text class="R2" x="631.5" y="516" style="stroke-width:0.8px">(</text>
<text class="R2" x="682" y="515" textLength="8" lengthAdjust="spacingAndGlyphs">&#8211;</text>
<text class="S" style="stroke-width:0.15px" x="695.5" y="517" textLength="49.5" lengthAdjust="spacingAndGlyphs">9404)</text>
<text class="N" x="684" y="1072.6" textLength="57" lengthAdjust="spacingAndGlyphs">470529A</text>
</g>
</svg>
</body></html>
